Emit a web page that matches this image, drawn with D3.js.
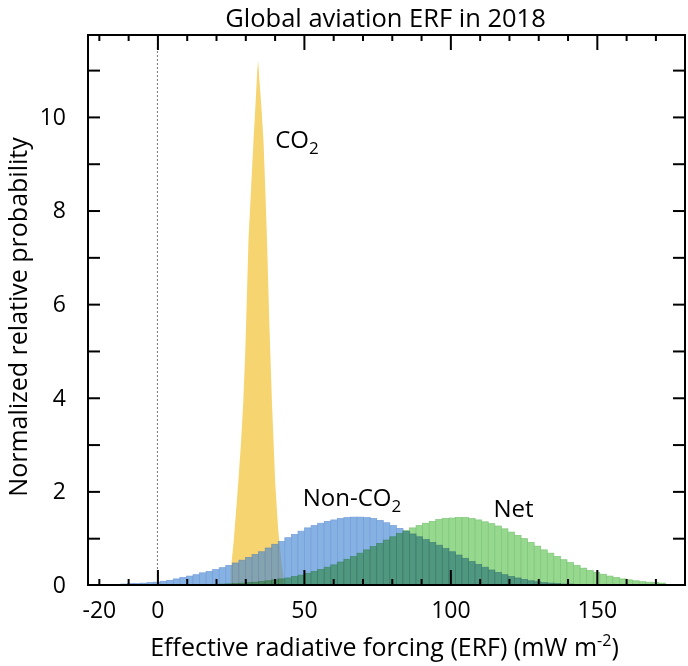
<!DOCTYPE html>
<html><head><meta charset="utf-8">
<script src="https://cdn.jsdelivr.net/npm/d3@7"></script>
<style>
body{margin:0;background:#fff;}
svg{display:block;font-family:"Open Sans",sans-serif;}
</style></head><body>
<svg id="c" width="688" height="666"></svg>
<script>
// ---- data ----
const binStart = -12.5;   // first histogram bin edge (mW m-2)
const binWidth = 2.24;    // histogram bin width (mW m-2)
const nonCO2 = [0.02,0.03,0.03,0.04,0.05,0.06,0.08,0.10,0.13,0.16,
  0.19,0.22,0.26,0.29,0.33,0.37,0.42,0.47,0.53,0.59,
  0.65,0.71,0.79,0.87,0.93,1.01,1.08,1.15,1.22,1.27,
  1.32,1.36,1.39,1.42,1.44,1.45,1.45,1.44,1.42,1.38,
  1.33,1.27,1.21,1.15,1.09,1.03,0.97,0.91,0.85,0.78,
  0.71,0.64,0.57,0.50,0.44,0.38,0.32,0.27,0.22,0.18,
  0.15,0.12,0.09,0.07,0.05,0.04,0.03,0.02,0.02,0.01,
  0.01,0.01];
const net = [0,0,0,0,0,0,0.002,0.003,0.003,0.004,
  0.005,0.007,0.009,0.012,0.015,0.02,0.025,0.03,0.04,0.05,
  0.06,0.075,0.09,0.11,0.13,0.15,0.18,0.21,0.25,0.29,
  0.33,0.38,0.43,0.49,0.55,0.61,0.68,0.75,0.82,0.89,
  0.96,1.03,1.10,1.16,1.22,1.27,1.32,1.36,1.40,1.42,
  1.43,1.44,1.44,1.42,1.39,1.35,1.31,1.26,1.20,1.13,
  1.06,0.99,0.91,0.83,0.75,0.68,0.61,0.54,0.48,0.42,
  0.36,0.31,0.27,0.23,0.19,0.16,0.13,0.11,0.09,0.07,
  0.06,0.05,0.04];
const co2X = [25.0,26.0,27.0,27.6,28.5,29.3,30.0,30.6,31.1,32.0,32.8,33.6,34.1,34.4,34.8,35.5,36.2,36.8,37.4,38.2,39.1,40.2,41.2,42.3,43.0];
const co2Y = [0.3,0.9,1.7,2.2,3.0,3.9,5.0,6.3,7.4,8.5,9.5,10.4,11.0,11.2,10.8,10.2,9.5,8.5,7.4,5.6,3.9,2.2,1.2,0.5,0.2];
const xTickLabels = [-20,0,50,100,150];
const xMajorTicks = [0,50,100,150];
const xMinorTicks = [-20,-10,10,20,30,40,60,70,80,90,110,120,130,140,160,170];
const yTickLabels = [0,2,4,6,8,10];
const yTicks = [1,2,3,4,5,6,7,8,9,10,11];
const titleText = "Global aviation ERF in 2018";
const yLabelText = "Normalized relative probability";

// ---- layout ----
const L = 88, R = 685, T = 35, B = 585;
const svg = d3.select("#c");
const x = d3.scaleLinear().domain([-23.7, 180.1]).range([L, R]);
const y = d3.scaleLinear().domain([0, 11.75]).range([B, T]);

// zero line
svg.append("line").attr("x1", x(0)).attr("x2", x(0)).attr("y1", T).attr("y2", B)
  .attr("stroke", "#666").attr("stroke-width", 0.9).attr("stroke-dasharray", "2,2");

// CO2 area
const co2 = co2X.map((v, i) => [v, co2Y[i]]);
svg.append("path").datum(co2)
  .attr("d", d3.area().x(d => x(d[0])).y0(y(0)).y1(d => y(d[1])))
  .attr("fill", "#f6d470");

// Non-CO2 bars
const gb = svg.append("g").attr("opacity", 0.65);
gb.selectAll("rect").data(nonCO2).join("rect")
  .attr("x", (d, i) => x(binStart + i * binWidth))
  .attr("width", (d, i) => x(binStart + (i + 1) * binWidth) - x(binStart + i * binWidth))
  .attr("y", d => y(d)).attr("height", d => y(0) - y(d))
  .attr("fill", "rgb(70,137,213)").attr("stroke", "rgb(45,105,200)").attr("stroke-width", 0.7);

// Net bars (multiply blend)
const gg = svg.append("g").style("mix-blend-mode", "multiply");
gg.selectAll("rect").data(net).join("rect")
  .attr("x", (d, i) => x(binStart + i * binWidth))
  .attr("width", (d, i) => x(binStart + (i + 1) * binWidth) - x(binStart + i * binWidth))
  .attr("y", d => y(d)).attr("height", d => y(0) - y(d))
  .attr("fill", "rgb(150,216,142)").attr("stroke", "rgb(126,198,122)").attr("stroke-width", 0.7);

// ---- axes ----
function styleAxis(g) {
  g.select(".domain").remove();
  g.selectAll("line").attr("stroke", "#000").attr("stroke-width", 2);
  g.selectAll("text").attr("fill", "#000").attr("font-family", '"Open Sans",sans-serif');
}
svg.append("g").attr("transform", `translate(0,${B})`)
  .call(d3.axisBottom(x).tickValues(xMinorTicks).tickSize(-6).tickFormat("")).call(styleAxis);
svg.append("g").attr("transform", `translate(0,${B})`)
  .call(d3.axisBottom(x).tickValues(xMajorTicks).tickSize(-15).tickFormat("")).call(styleAxis);
svg.append("g").attr("transform", `translate(0,${T})`)
  .call(d3.axisTop(x).tickValues(xMinorTicks).tickSize(-6).tickFormat("")).call(styleAxis);
svg.append("g").attr("transform", `translate(0,${T})`)
  .call(d3.axisTop(x).tickValues(xMajorTicks).tickSize(-15).tickFormat("")).call(styleAxis);
svg.append("g").attr("transform", `translate(0,${B})`)
  .call(d3.axisBottom(x).tickValues(xTickLabels).tickSize(0).tickPadding(17).tickFormat(d => String(d))).call(styleAxis)
  .selectAll("text").attr("font-size", 23);
svg.append("g").attr("transform", `translate(${L},0)`)
  .call(d3.axisLeft(y).tickValues(yTicks).tickSize(-12).tickFormat("")).call(styleAxis);
svg.append("g").attr("transform", `translate(${R},0)`)
  .call(d3.axisRight(y).tickValues(yTicks).tickSize(-12).tickFormat("")).call(styleAxis);
svg.append("g").attr("transform", `translate(${L},0)`)
  .call(d3.axisLeft(y).tickValues(yTickLabels).tickSize(0).tickPadding(22).tickFormat(d => String(d))).call(styleAxis)
  .selectAll("text").attr("font-size", 23);

// frame
svg.append("rect").attr("x", L).attr("y", T).attr("width", R - L).attr("height", B - T)
  .attr("fill", "none").attr("stroke", "#000").attr("stroke-width", 2);

// title & axis labels
svg.append("text").attr("x", (L + R) / 2 - 1).attr("y", 27).attr("text-anchor", "middle")
  .attr("font-size", 25.5).text(titleText);
svg.append("text").attr("transform", `translate(27,317) rotate(-90)`).attr("text-anchor", "middle")
  .attr("font-size", 25).text(yLabelText);
const xl = svg.append("text").attr("x", (L + R) / 2 - 2).attr("y", 656).attr("text-anchor", "middle")
  .attr("font-size", 25);
xl.append("tspan").text("Effective radiative forcing (ERF) (mW m");
xl.append("tspan").attr("font-size", 16).attr("dy", -10).text("-2");
xl.append("tspan").attr("dy", 10).text(")");

// series labels (data coordinates)
function subLabel(base, sub, xv, yv) {
  const t = svg.append("text").attr("x", x(xv)).attr("y", y(yv)).attr("font-size", 24);
  t.append("tspan").text(base);
  t.append("tspan").attr("font-size", 17).attr("dy", 6).text(sub);
}
subLabel("CO", "2", 40.2, 9.33);
subLabel("Non-CO", "2", 49.6, 1.69);
svg.append("text").attr("x", x(114.7)).attr("y", y(1.46)).attr("font-size", 24).text("Net");
</script>
</body></html>
